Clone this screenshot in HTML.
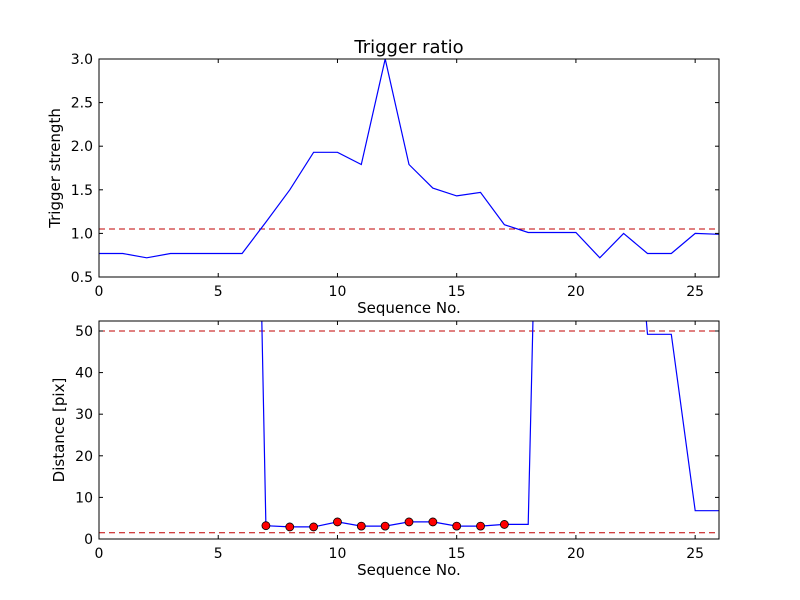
<!DOCTYPE html>
<html><head><meta charset="utf-8"><style>
body{margin:0;background:#fff;}
svg{display:block;font-family:"DejaVu Sans","Liberation Sans",sans-serif;}
</style></head><body>
<svg id="chart" width="800" height="600"></svg>
<script>
const xTicks=[0,5,10,15,20,25];
const topYTicks=[0.5,1.0,1.5,2.0,2.5,3.0];
const topYLabels=["0.5","1.0","1.5","2.0","2.5","3.0"];
const botYTicks=[0,10,20,30,40,50];
const topX=[0,1,2,3,4,5,6,7,8,9,10,11,12,13,14,15,16,17,18,19,20,21,22,23,24,25,26];
const topY=[0.77,0.77,0.72,0.77,0.77,0.77,0.77,1.13,1.5,1.93,1.93,1.79,3.0,1.79,1.52,1.43,1.47,1.1,1.01,1.01,1.01,0.72,1.0,0.77,0.77,1.0,0.99];
const topThreshold=[1.05];
const botX=[6,7,8,9,10,11,12,13,14,15,16,17,18,19,20,21,22,23,24,25,26];
const botY=[290,3.2,2.9,2.9,4.1,3.1,3.1,4.1,4.1,3.1,3.1,3.5,3.5,250,250,250,115,49.2,49.2,6.8,6.8];
const markerX=[7,8,9,10,11,12,13,14,15,16,17];
const markerY=[3.2,2.9,2.9,4.1,3.1,3.1,4.1,4.1,3.1,3.1,3.5];
const botThresholds=[50,1.5];

const NS="http://www.w3.org/2000/svg";
const svg=document.getElementById('chart');
function mk(tag,attrs,parent){const e=document.createElementNS(NS,tag);for(const k in attrs)e.setAttribute(k,attrs[k]);(parent||svg).appendChild(e);return e;}
const L=99,R=719;
function panel(top,bot,ymin,ymax,name){
  const sx=v=>L+(v-0)/26*(R-L);
  const sy=v=>bot-(v-ymin)/(ymax-ymin)*(bot-top);
  const g=mk('g',{});
  
  
  const cid='clip-'+name;
  const cp=mk('clipPath',{id:cid},g);mk('rect',{x:L,y:top,width:R-L,height:bot-top},cp);
  return {g,sx,sy,cid,top,bot};
}
function axes(p,yt,ylabels,ytitle,xtitle){
  const f=mk('rect',{x:L,y:p.top,width:R-L,height:p.bot-p.top,fill:'none',stroke:'#000','stroke-width':1},p.g);
  
  xTicks.forEach(t=>{const x=p.sx(t);
    mk('line',{x1:x,x2:x,y1:p.bot,y2:p.bot-4,stroke:'#000'},p.g);
    mk('line',{x1:x,x2:x,y1:p.top,y2:p.top+4,stroke:'#000'},p.g);
    const tx=mk('text',{x:x,y:p.bot+19,'text-anchor':'middle','font-size':14},p.g);tx.textContent=t;
    });
  yt.forEach((t,i)=>{const y=p.sy(t);
    mk('line',{x1:L,x2:L+4,y1:y,y2:y,stroke:'#000'},p.g);
    mk('line',{x1:R,x2:R-4,y1:y,y2:y,stroke:'#000'},p.g);
    const tx=mk('text',{x:L-6,y:y+5,'text-anchor':'end','font-size':14},p.g);tx.textContent=ylabels[i];
    });
  const xt=mk('text',{x:(L+R)/2,y:p.bot+36,'text-anchor':'middle','font-size':15},p.g);xt.textContent=xtitle;
  
  const cy=(p.top+p.bot)/2;
  const yx=mk('text',{x:0,y:0,'text-anchor':'middle','font-size':15,transform:`translate(${ytitle[1]},${cy}) rotate(-90)`},p.g);yx.textContent=ytitle[0];
  
}
function hline(p,v){const l=mk('line',{x1:L,x2:R,y1:p.sy(v),y2:p.sy(v),stroke:'#c00000','stroke-dasharray':'6,4','stroke-width':1,'clip-path':`url(#${p.cid})`},p.g);
  }
function series(p,xs,ys,name){const d=xs.map((x,i)=>(i?'L':'M')+p.sx(x).toFixed(1)+','+p.sy(ys[i]).toFixed(1)).join('');
  const pa=mk('path',{d,fill:'none',stroke:'#0000ff','stroke-width':1.2,'clip-path':`url(#${p.cid})`},p.g);
  }

const p1=panel(59,277,0.5,3.0,'top-panel');
topThreshold.forEach(v=>hline(p1,v));
series(p1,topX,topY,'trigger-strength-line');
axes(p1,topYTicks,topYLabels,['Trigger strength',60],'Sequence No.');
const title=mk('text',{x:(L+R)/2,y:53,'text-anchor':'middle','font-size':18});title.textContent='Trigger ratio';


const p2=panel(321,539,0,52.4,'bottom-panel');
botThresholds.forEach(v=>hline(p2,v));
series(p2,botX,botY,'distance-line');
markerX.forEach((x,i)=>{const c=mk('circle',{cx:p2.sx(x),cy:p2.sy(markerY[i]),r:4,fill:'#ff0000',stroke:'#000','stroke-width':0.8},p2.g);
  });
axes(p2,botYTicks,botYTicks.map(String),['Distance [pix]',64],'Sequence No.');
</script>
</body></html>
